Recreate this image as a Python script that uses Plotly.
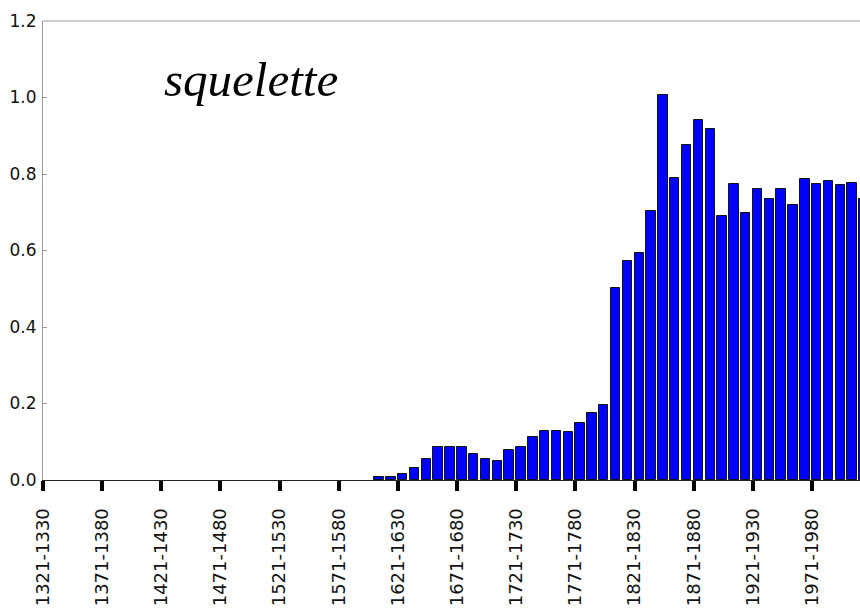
import plotly.graph_objects as go

# Decade categories (1321-1330 ... 2011-2020)
start_years = list(range(1321, 2021, 10))
decades = [f"{y}-{y + 9}" for y in start_years]

# Values per decade
values = [0.0] * 28 + [
    0.008, 0.008, 0.015, 0.031, 0.054, 0.086, 0.086, 0.086, 0.069, 0.054,
    0.050, 0.078, 0.086, 0.112, 0.127, 0.127, 0.126, 0.148, 0.176, 0.196,
    0.501, 0.573, 0.594, 0.703, 1.007, 0.789, 0.875, 0.940, 0.918, 0.690,
    0.774, 0.699, 0.760, 0.735, 0.760, 0.718, 0.787, 0.774, 0.781, 0.772,
    0.776, 0.734,
]

positions = list(range(len(decades)))
tick_positions = positions[::5]
tick_labels = decades[::5]
y_ticks = [0.0, 0.2, 0.4, 0.6, 0.8, 1.0, 1.2]
y_tick_labels = ["0.0", "0.2", "0.4", "0.6", "0.8", "1.0", "1.2"]
title_text = "squelette"

edge_widths = [1 if v > 0 else 0 for v in values]

fig = go.Figure()
fig.add_trace(go.Bar(
    x=positions,
    y=values,
    width=0.8,
    offset=0,
    marker=dict(color="#0000ff", line=dict(color="#111111", width=edge_widths)),
    hoverinfo="skip",
))

fig.update_layout(
    width=860,
    height=608,
    margin=dict(l=43, r=0, t=21, b=128),
    plot_bgcolor="white",
    paper_bgcolor="white",
    showlegend=False,
    font=dict(family="DejaVu Sans", size=17, color="#111111"),
    bargap=0,
    xaxis=dict(
        range=[0, 69.06],
        automargin=False,
        tickmode="array",
        tickvals=tick_positions,
        ticktext=tick_labels,
        tickangle=-90,
        ticks="outside",
        ticklen=10,
        tickwidth=3.5,
        tickcolor="black",
        showline=True,
        linecolor="#222222",
        linewidth=1,
        showgrid=False,
        zeroline=False,
        ticklabelstandoff=10,
        tickfont=dict(family="DejaVu Sans", size=18, color="#111111"),
    ),
    yaxis=dict(
        range=[0, 1.2],
        automargin=False,
        tickmode="array",
        tickvals=y_ticks,
        ticktext=y_tick_labels,
        ticks="inside",
        ticklen=4,
        tickwidth=1,
        tickcolor="#999999",
        showline=True,
        linecolor="#999999",
        linewidth=1,
        showgrid=False,
        zeroline=False,
        ticklabelstandoff=2,
        tickfont=dict(family="DejaVu Sans", size=17, color="#111111"),
    ),
    shapes=[dict(
        type="line", xref="paper", yref="paper",
        x0=0, x1=1, y0=1, y1=1,
        line=dict(color="#999999", width=1),
    )],
    annotations=[dict(
        text=title_text,
        xref="paper", yref="paper",
        x=0.2546, y=0.8715,
        xanchor="center", yanchor="middle",
        showarrow=False,
        font=dict(family="Liberation Serif", size=49, color="black", style="italic"),
    )],
)

fig.write_html(
    "out.html",
    config={"displayModeBar": False},
    post_script="document.body.style.margin='0';",
)
